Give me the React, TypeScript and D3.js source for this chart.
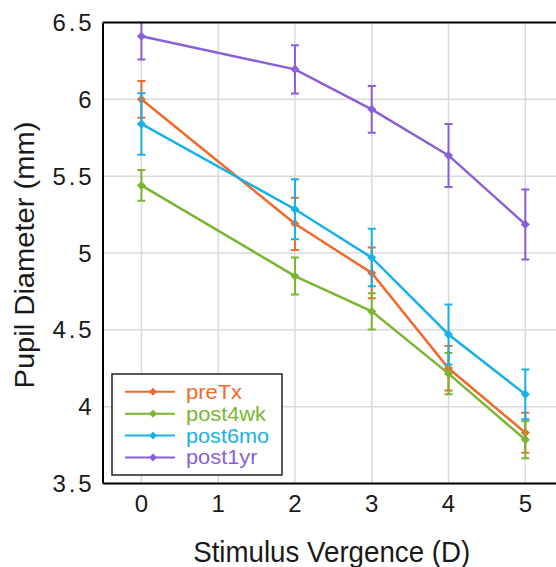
import React from "react";
import * as d3 from "d3";

const xValues = [0, 2, 3, 4, 5];
const seriesNames = ["preTx", "post4wk", "post6mo", "post1yr"];
const seriesColors = ["#F2692A", "#7AB631", "#17B1E8", "#8A5FD8"];
const preTx = [6.0, 5.19, 4.87, 4.25, 3.83];
const preTxErr = [0.12, 0.17, 0.165, 0.145, 0.13];
const post4wk = [5.44, 4.85, 4.62, 4.215, 3.785];
const post4wkErr = [0.1, 0.12, 0.118, 0.135, 0.12];
const post6mo = [5.84, 5.285, 4.97, 4.47, 4.08];
const post6moErr = [0.2, 0.195, 0.187, 0.195, 0.162];
const post1yr = [6.41, 6.195, 5.935, 5.635, 5.186];
const post1yrErr = [0.15, 0.157, 0.152, 0.205, 0.228];
const xTicks = [0, 1, 2, 3, 4, 5];
const yTicks = [3.5, 4, 4.5, 5, 5.5, 6, 6.5];
const xLabel = "Stimulus Vergence (D)";
const yLabel = "Pupil Diameter (mm)";

const W = 556;
const H = 567;
const FONT = "'Liberation Sans', Arial, Helvetica, sans-serif";

export default function App() {
  const x = d3.scaleLinear().domain([-0.5, 5.5]).range([103, 563.7]);
  const y = d3.scaleLinear().domain([3.5, 6.5]).range([483.5, 22.5]);
  const values = [preTx, post4wk, post6mo, post1yr];
  const errs = [preTxErr, post4wkErr, post6moErr, post1yrErr];
  const line = d3
    .line<number>()
    .x((_, i) => x(xValues[i]))
    .y((d) => y(d));
  const diamond = (cx: number, cy: number, r: number) =>
    `M${cx},${cy - r}L${cx + r},${cy}L${cx},${cy + r}L${cx - r},${cy}Z`;
  const [x0, x1] = x.range();
  const [yb, yt] = y.range();
  const legRows = [391.75, 413.65, 435.55, 457.45];
  const legWidths = [56, 80, 83, 71.5];

  return (
    <svg
      width={W}
      height={H}
      style={{ position: "absolute", left: 0, top: 0, background: "#fff" }}
      fontFamily={FONT}
    >
      <defs>
        <clipPath id="plotclip">
          <rect x={x0} y={yt} width={x1 - x0} height={yb - yt} />
        </clipPath>
      </defs>
      <rect x={0} y={0} width={W} height={H} fill="#fff" />
      {xTicks.map((t) => (
        <line key={"gx" + t} x1={x(t)} x2={x(t)} y1={yt} y2={yb} stroke="#dadada" strokeWidth={1.5} />
      ))}
      {yTicks.map((t) => (
        <line key={"gy" + t} x1={x0} x2={x1} y1={y(t)} y2={y(t)} stroke="#dadada" strokeWidth={1.5} />
      ))}
      <g clipPath="url(#plotclip)">
        {values.map((vals, si) => (
          <g key={seriesNames[si]} stroke={seriesColors[si]} fill={seriesColors[si]}>
            <path d={line(vals) || ""} fill="none" strokeWidth={2.5} />
            {vals.map((v, i) => {
              const cx = x(xValues[i]);
              const e = errs[si][i];
              return (
                <g key={i} strokeWidth={2}>
                  <line x1={cx} x2={cx} y1={y(v + e)} y2={y(v - e)} />
                  <line x1={cx - 4} x2={cx + 4} y1={y(v + e)} y2={y(v + e)} />
                  <line x1={cx - 4} x2={cx + 4} y1={y(v - e)} y2={y(v - e)} />
                  <path d={diamond(cx, y(v), 4.5)} stroke="none" />
                </g>
              );
            })}
          </g>
        ))}
      </g>
      <line x1={x0} x2={x0} y1={yt} y2={yb} stroke="#000" strokeWidth={2} />
      <line x1={x0} x2={x1} y1={yb} y2={yb} stroke="#000" strokeWidth={2} />
      <line x1={x0} x2={x1} y1={yt} y2={yt} stroke="#000" strokeWidth={2} />
      {yTicks.map((t) => (
        <text
          key={"ty" + t}
          x={91.5}
          y={y(t)}
          textAnchor="end"
          dominantBaseline="central"
          fontSize={24}
          fill="#1a1a1a"
          textLength={Number.isInteger(t) ? undefined : 39}
          lengthAdjust="spacing"
        >
          {String(t)}
        </text>
      ))}
      {xTicks.map((t) => (
        <text key={"tx" + t} x={x(t)} y={512} textAnchor="middle" fontSize={24} fill="#1a1a1a">
          {String(t)}
        </text>
      ))}
      <text
        x={331.7}
        y={561.5}
        textAnchor="middle"
        fontSize={29.5}
        fill="#1a1a1a"
        textLength={277}
        lengthAdjust="spacingAndGlyphs"
      >
        {xLabel}
      </text>
      <text
        transform={`translate(33.5,255) rotate(-90)`}
        textAnchor="middle"
        fontSize={28}
        fill="#1a1a1a"
        textLength={267}
        lengthAdjust="spacingAndGlyphs"
      >
        {yLabel}
      </text>
      <rect x={112} y={374} width={170} height={101} fill="#fff" stroke="#222" strokeWidth={1.5} />
      {seriesNames.map((n, i) => (
        <g key={"leg" + n}>
          <line x1={125} x2={175} y1={legRows[i]} y2={legRows[i]} stroke={seriesColors[i]} strokeWidth={2} />
          <path d={diamond(153, legRows[i], 4)} fill={seriesColors[i]} />
          <text
            x={186}
            y={legRows[i]}
            dominantBaseline="central"
            fontSize={19.5}
            fill={seriesColors[i]}
            textLength={legWidths[i]}
            lengthAdjust="spacingAndGlyphs"
          >
            {n}
          </text>
        </g>
      ))}
    </svg>
  );
}
